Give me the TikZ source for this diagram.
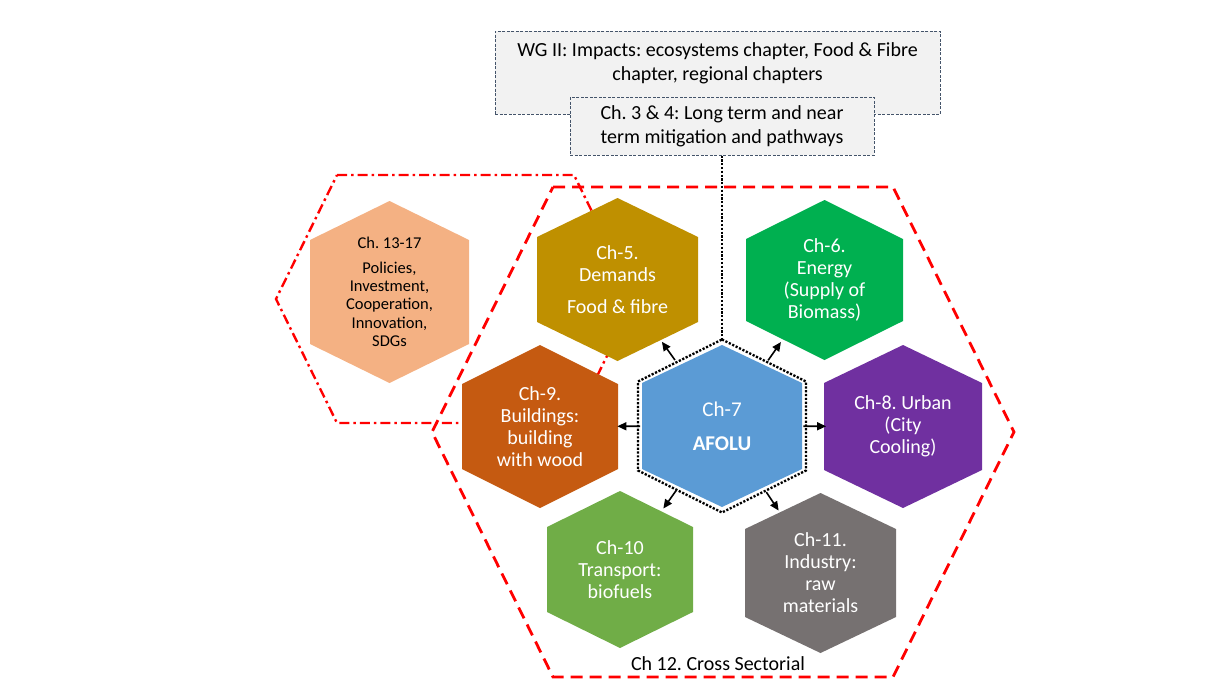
\documentclass[tikz,border=0pt]{standalone}
\usepackage{fontspec}
\setmainfont{Carlito}
\usepackage{xcolor}
\usepackage{tikz}
\usetikzlibrary{arrows.meta,positioning,calc}

\definecolor{gold}{HTML}{BF9000}
\definecolor{energy}{HTML}{00B050}
\definecolor{afolublue}{HTML}{5B9BD5}
\definecolor{urban}{HTML}{7030A0}
\definecolor{wood}{HTML}{C55A11}
\definecolor{transport}{HTML}{70AD47}
\definecolor{industry}{HTML}{767171}
\definecolor{policy}{HTML}{F4B183}
\definecolor{boxfill}{HTML}{F2F2F2}
\definecolor{boxline}{HTML}{44546A}

\newcommand{\hexa}[5]{%
  \path[#1] (#2) ++(0,-#4) -- ++(#3,#5) -- ++(0,{2*#4-2*#5}) -- ++(-#3,#5)
    -- ++(-#3,-#5) -- ++(0,{2*#5-2*#4}) -- cycle;}

\begin{document}
\frenchspacing
\begin{tikzpicture}[
  x=1pt,y=-1pt,
  font=\fontsize{20}{22}\selectfont,
  hexlbl/.style={align=center,text=white,inner sep=0pt},
  greybox/.style={draw=boxline,fill=boxfill,dash pattern=on 3pt off 1.5pt,line width=1pt},
  redline/.style={draw=red,line width=2.8pt},
  dots/.style={draw=black,line width=2.3pt,dash pattern=on 2.2pt off 1.6pt},
  arr/.style={-{Triangle[length=9pt,width=8pt]},line width=1.6pt},
]
\useasboundingbox (0,0) rectangle (1215,683);

\path[redline,dash pattern=on 12pt off 7pt] (553,187) -- (893,187) -- (1014,432) -- (893,677) -- (553,677) -- (432,432) -- cycle;
\path[redline,line width=2.4pt,dash pattern=on 10pt off 4pt on 2.5pt off 4pt] (337,175) -- (574,175) -- (635,299) -- (574,423) -- (337,423) -- (276,299) -- cycle;

\coordinate (p13) at (389.5,292);
\coordinate (p5) at (617.5,279.5);
\coordinate (p6) at (824.5,280);
\coordinate (p9) at (540,426.5);
\coordinate (p7) at (722,426);
\coordinate (p8) at (903,426.5);
\coordinate (p10) at (620,569.5);
\coordinate (p11) at (820.5,573);

\hexa{fill=policy}{p13}{79.5}{91}{39}
\hexa{fill=gold}{p5}{80.5}{81.5}{39}
\hexa{fill=energy}{p6}{78.5}{80}{39}
\hexa{fill=wood}{p9}{78}{81.5}{39}
\hexa{fill=afolublue}{p7}{80}{81}{38}
\hexa{fill=urban}{p8}{79}{81.5}{38}
\hexa{fill=transport}{p10}{73}{78.5}{36}
\hexa{fill=industry}{p11}{75.5}{80}{36}
\hexa{dots}{p7}{84}{86.5}{42}

\node[hexlbl,text=black,font=\fontsize{16.5}{18.3}\selectfont] (ch13) at (p13) {Ch. 13-17\\[6pt]Policies,\\Investment,\\Cooperation,\\Innovation,\\SDGs};
\node[hexlbl] (ch5) at (p5) {Ch-5.\\Demands\\[10pt]Food \& fibre};
\node[hexlbl] (ch6) at (p6) {Ch-6.\\Energy\\(Supply of\\Biomass)};
\node[hexlbl] (ch9) at (p9) {Ch-9.\\Buildings:\\building\\with wood};
\node[hexlbl,font=\fontsize{21}{24}\selectfont] (afolu) at (p7) {Ch-7\\[10pt]\textbf{AFOLU}};
\node[hexlbl] (ch8) at (p8) {Ch-8. Urban\\(City\\Cooling)};
\node[hexlbl] (ch10) at (p10) {Ch-10\\Transport:\\biofuels};
\node[hexlbl] (ch11) at (p11) {Ch-11.\\Industry:\\raw\\materials};
\node (ch12) at (718,664) {Ch 12. Cross Sectorial};

\foreach \n in {ch5,ch6,ch8,ch9,ch10,ch11}
  \draw[arr] ($(afolu.center)!0.45!(\n.center)$) -- ($(afolu.center)!0.575!(\n.center)$);

\node[greybox,minimum width=445pt,minimum height=83pt] (wg2) at (717.5,72.5) {};
\node[anchor=north,inner sep=0pt,align=center,font=\fontsize{20}{24}\selectfont] (wg2txt) at (717.5,42.5) {WG II: Impacts: ecosystems chapter, Food \& Fibre\\chapter, regional chapters};
\node[greybox,minimum width=304pt,minimum height=58pt,align=center,font=\fontsize{20}{24}\selectfont] (ch34) at (722,126) {Ch. 3 \& 4: Long term and near\\term mitigation and pathways};

\coordinate (p7top) at (722,339.5);
\draw[dots] (ch34.south) -- (p7top);
\end{tikzpicture}
\end{document}
